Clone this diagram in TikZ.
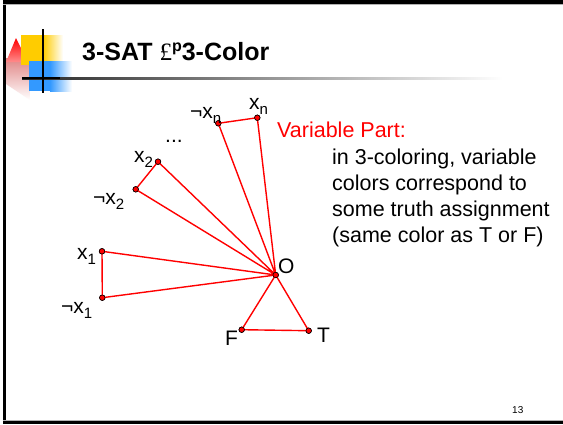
\documentclass[tikz,border=0pt]{standalone}
\usepackage{fontspec}
\setmainfont{Liberation Sans}
\newfontfamily\poundfont{Liberation Serif}
\definecolor{slideyellow}{HTML}{FFCC00}
\definecolor{slideblue}{HTML}{3399FF}
\newcommand\sbs[1]{\raisebox{-5pt}{\fontsize{15}{15}\selectfont #1}}
\tikzset{
  vdot/.style={circle, fill=red, draw=black, line width=0.6pt, inner sep=0pt, minimum size=5.5pt},
  edge/.style={draw=red, line width=1.4pt},
  lbl/.style={anchor=base west, inner sep=0pt, font=\fontsize{21}{25}\selectfont},
  body/.style={anchor=base west, inner sep=0pt, font=\fontsize{21.5}{26}\selectfont}
}
\begin{document}
\begin{tikzpicture}[x=1pt, y=-1pt]
\useasboundingbox (0,0) rectangle (563,424);
\fill[white] (0,0) rectangle (563,424);
% frame
\fill[black] (3,0) rectangle (6,424);
\fill[black] (3,0) rectangle (563,4);
\fill[gray!60] (3,4) rectangle (563,4.8);
\fill[gray!60] (3,420.2) rectangle (563,421);
\fill[black] (3,421) rectangle (563,424);
% logo
\shade[top color=red!60!gray!60, bottom color=white, shading angle=0] (6,58) -- (30,58) -- (30,100) -- (6,84) -- cycle;
\shade[top color=red, bottom color=red!45] (6,62) -- (16,38) -- (28,62) -- cycle;
\fill[slideyellow] (21,35) rectangle (43,65);
\shade[left color=slideyellow, right color=white] (43,35) rectangle (63,65);
\fill[slideblue] (29,61) rectangle (50,91);
\shade[left color=slideblue, right color=white] (50,61) rectangle (72,91);
\shade[left color=black!85, right color=white] (22,77) rectangle (503,79);
\fill[black] (22,77) rectangle (60,79);
\fill[black] (42.2,29) rectangle (44.2,93);
% title
\node[anchor=base west, inner sep=0pt, font=\fontsize{25}{30}\selectfont\bfseries] (title) at (82,60)
  {3-SAT {\poundfont\mdseries £}\raisebox{9pt}{\fontsize{16}{16}\selectfont p}3-Color};
% vertices
\node[vdot] (nxn) at (218.3,123.3) {};
\node[vdot] (xn) at (257.3,117.7) {};
\node[vdot] (x2) at (158,161.7) {};
\node[vdot] (nx2) at (135.7,189.3) {};
\node[vdot] (x1) at (102,251.3) {};
\node[vdot] (nx1) at (102.3,297.7) {};
\node[vdot] (O) at (275.7,275) {};
\node[vdot] (F) at (241.7,329.7) {};
\node[vdot] (T) at (308.7,330.7) {};
% edges
\path[edge] (O.center) -- (xn.center) -- (nxn.center) -- (O.center) -- (x2.center) -- (nx2.center) -- (O.center)
  -- (x1.center) -- (nx1.center) -- (O.center) -- (F.center) -- (T.center) -- (O.center);
\foreach \v in {nxn,xn,x2,nx2,x1,nx1,O,F,T} {\node[vdot] at (\v) {};}
% labels
\node[lbl] (lxn) at (249,109) {x\sbs{n}};
\node[lbl] (lnxn) at (190,118) {¬x\sbs{n}};
\node[lbl] (ldots) at (165,142) {...};
\node[lbl] (lx2) at (134,162) {x\sbs{2}};
\node[lbl] (lnx2) at (93,204) {¬x\sbs{2}};
\node[lbl] (lx1) at (77,259) {x\sbs{1}};
\node[lbl] (lnx1) at (61,313) {¬x\sbs{1}};
\node[lbl] (lO) at (278,273) {O};
\node[lbl] (lF) at (225,345) {F};
\node[lbl] (lT) at (317,342) {T};
% text
\node[body, text=red] (vp) at (277,137.3) {Variable Part:};
\node[body] (b1) at (332,164) {in 3-coloring, variable};
\node[body] (b2) at (332,190) {colors correspond to};
\node[body] (b3) at (332,216) {some truth assignment};
\node[body] (b4) at (332,242) {(same color as T or F)};
\node[anchor=base west, inner sep=0pt, font=\fontsize{10}{12}\selectfont] (pg) at (512,413) {13};
\end{tikzpicture}
\end{document}
